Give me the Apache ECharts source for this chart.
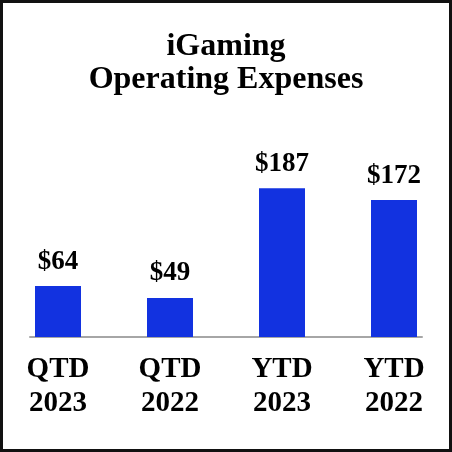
<!DOCTYPE html>
<html>
<head>
<meta charset="utf-8">
<script src="https://cdn.jsdelivr.net/npm/echarts@6/dist/echarts.min.js"></script>
<style>
  html, body { margin: 0; padding: 0; background: #fff; }
  #wrap { position: relative; width: 452px; height: 452px; }
  #chart { position: absolute; left: 0; top: 0; width: 452px; height: 452px; }
  #frame { position: absolute; left: 0; top: 0; width: 452px; height: 452px;
           box-sizing: border-box; border: 3px solid #111; pointer-events: none; }
</style>
</head>
<body>
<div id="wrap">
  <div id="chart"></div>
  <div id="frame"></div>
</div>
<script>
// iGaming operating expenses ($ millions)
var categories = ['QTD\n2023', 'QTD\n2022', 'YTD\n2023', 'YTD\n2022']
var expenses = [64, 49, 187, 172]

var serif = '"Liberation Serif", "Times New Roman", serif'
var mychart = echarts.init(document.getElementById('chart'))
mychart.setOption({
    animation: false,
    title: {
        text: 'iGaming\nOperating Expenses',
        left: 'center',
        top: 25,
        textStyle: {
            fontFamily: serif,
            fontWeight: 'bold',
            fontSize: 32,
            lineHeight: 33,
            color: '#000'
        }
    },
    grid: [
        { left: 2, right: 2, top: 138, bottom: 115 },
        // only used to draw the shorter baseline
        { left: 30, right: 30, top: 138, bottom: 115 }
    ],
    xAxis: [{
        type: 'category',
        gridIndex: 0,
        data: categories,
        axisLine: { show: false },
        axisTick: { show: false },
        axisLabel: {
            margin: 16,
            fontFamily: serif,
            fontWeight: 'bold',
            fontSize: 29,
            lineHeight: 34,
            color: '#000'
        }
    }, {
        type: 'category',
        gridIndex: 1,
        data: categories,
        axisLine: { show: true, lineStyle: { color: '#a6a6a6', width: 2 } },
        axisTick: { show: false },
        axisLabel: { show: false }
    }],
    yAxis: [{
        type: 'value',
        gridIndex: 0,
        min: 0,
        max: 250,
        show: false
    }, {
        type: 'value',
        gridIndex: 1,
        min: 0,
        max: 250,
        show: false
    }],
    series: [{
        type: 'bar',
        xAxisIndex: 0,
        yAxisIndex: 0,
        data: expenses,
        barWidth: 46,
        itemStyle: { color: '#1232e0' },
        label: {
            show: true,
            position: 'top',
            distance: 11,
            formatter: '${c}',
            fontFamily: serif,
            fontWeight: 'bold',
            fontSize: 27,
            color: '#000'
        }
    }]
})
</script>
</body>
</html>
